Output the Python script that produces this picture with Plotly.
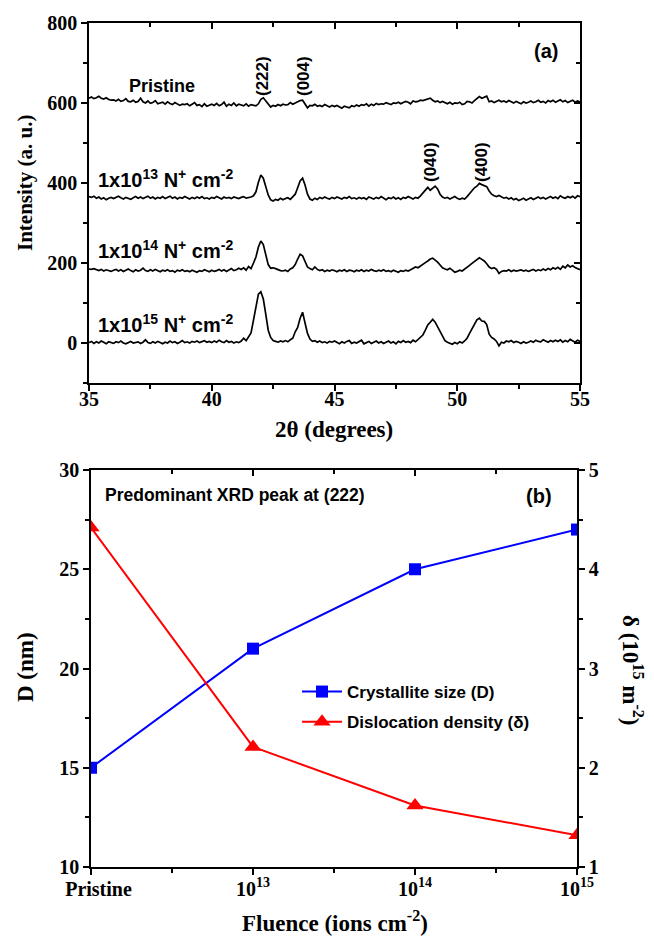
import numpy as np
import plotly.graph_objects as go

# ---------------- Panel (a): XRD patterns ----------------
two_theta = np.round(np.linspace(35, 55, 201), 1)

xrd_pristine = [
    612, 615, 611, 613, 617, 612, 610, 613, 609, 607,
    608, 605, 609, 604, 606, 611, 604, 603, 607, 602,
    604, 612, 603, 600, 605, 599, 601, 606, 598, 600,
    602, 597, 603, 599, 596, 601, 598, 594, 597, 596,
    598, 593, 597, 601, 594, 596, 591, 598, 592, 595,
    597, 594, 599, 593, 596, 602, 592, 597, 594, 600,
    593, 597, 595, 593, 598, 592, 596, 594, 593, 598,
    609, 613, 605, 595, 590, 594, 592, 596, 593, 597,
    595, 596, 601, 597, 600, 605, 606, 607, 598, 588,
    594, 593, 597, 592, 594, 591, 596, 593, 590, 594,
    591, 594, 590, 587, 592, 589, 588, 593, 591, 595,
    592, 596, 594, 598, 592, 597, 594, 599, 596, 598,
    597, 601, 598, 596, 600, 599, 602, 598, 601, 604,
    602, 598, 605, 603, 604, 607, 606, 608, 610, 612,
    607, 603, 605, 601, 604, 600, 598, 602, 597, 600,
    599, 602, 596, 598, 604, 603, 600, 606, 612, 616,
    612, 615, 617, 603, 605, 601, 604, 607, 603, 605,
    602, 606, 603, 600, 604, 601, 598, 603, 600, 602,
    605, 601, 603, 607, 602, 604, 600, 606, 603, 607,
    602, 605, 608, 603, 606, 601, 604, 607, 602, 605,
    603,
]

xrd_1e13 = [
    366, 364, 367, 362, 365, 360, 363, 358, 362, 364,
    361, 365, 367, 363, 360, 364, 362, 359, 363, 366,
    362, 365, 361, 364, 367, 362, 365, 360, 364, 362,
    366, 361, 364, 367, 362, 365, 360, 364, 362, 366,
    363, 360, 364, 361, 365, 362, 366, 361, 363, 360,
    364, 362, 366, 363, 360, 365, 362, 364, 361, 365,
    363, 361, 364, 366, 362, 363, 365, 368, 378, 402,
    420, 412, 390, 370, 358, 355, 359, 357, 362, 358,
    361, 363, 359, 366, 372, 388, 405, 412, 395, 372,
    360, 357, 362, 359, 364, 361, 365, 362, 360, 364,
    361, 365, 362, 360, 364, 362, 366, 361, 363, 360,
    364, 361, 363, 359, 365, 362, 360, 364, 361, 366,
    362, 358, 363, 361, 365, 360, 363, 359, 364, 362,
    366, 363, 360, 364, 362, 368, 376, 384, 389, 382,
    388, 392, 385, 372, 365, 362, 364, 360, 363, 366,
    362, 359, 362, 360, 366, 374, 382, 388, 392, 399,
    396, 393, 391, 380, 372, 368, 366, 369, 365, 362,
    364, 360, 363, 358, 361, 356, 359, 362, 357, 360,
    363, 359, 362, 365, 361, 364, 360, 363, 366, 362,
    365, 361, 368, 364, 362, 366, 363, 367, 362, 368,
    366,
]

xrd_1e14 = [
    185, 184, 186, 183, 181, 184, 180, 183, 181, 179,
    182, 184, 180, 183, 179, 182, 185, 181, 178, 183,
    180, 182, 187, 181, 179, 183, 180, 184, 181, 178,
    182, 180, 183, 179, 181, 177, 182, 180, 183, 179,
    181, 178, 182, 180, 177, 181, 179, 183, 180, 178,
    182, 179, 181, 184, 180, 183, 179, 182, 186, 181,
    183, 187, 184, 188, 182, 191, 186, 200, 215, 240,
    255, 246, 222, 196, 187, 188, 186, 183, 181, 180,
    182, 179, 185, 188, 196, 210, 222, 218, 203, 190,
    186, 183, 190, 184, 181, 183, 179, 182, 180, 183,
    181, 178, 182, 180, 183, 179, 182, 181, 178, 182,
    180, 183, 179, 182, 180, 184, 181, 179, 182, 180,
    183, 179, 181, 178, 182, 180, 177, 181, 179, 182,
    180, 183, 186, 190, 188, 193, 198, 201, 205, 210,
    212, 208, 202, 195, 188, 185, 183, 187, 181, 177,
    179, 182, 180, 184, 188, 194, 199, 204, 210, 213,
    209, 205, 198, 190, 186, 188, 184, 174, 179, 181,
    180, 183, 179, 182, 180, 181, 183, 180, 182, 179,
    182, 184, 180, 183, 181, 185, 182, 186, 183, 188,
    185, 189, 184, 192, 188, 195, 190, 193, 189, 186,
    183,
]

xrd_1e15 = [
    1, 4, -1, 3, 0, 5, 2, -2, 3, 0,
    -1, 3, 1, 5, 0, -2, 2, 4, 0, 1,
    3, -1, 2, 8, 1, -1, 3, 0, 4, 1,
    -2, 2, 0, 5, 1, 3, -1, 2, 6, 1,
    3, 0, 4, 2, 5, 1, 3, 6, 2, 4,
    1, 5, 2, 7, 3, 1, 6, 2, 4, 0,
    3, 1, 5, 12, 6, 14, 25, 57, 95, 122,
    128, 110, 72, 32, 14, 6, 4, 2, 5, 3,
    6, 3, 8, 12, 28, 39, 62, 77, 50, 24,
    10, 4, 6, 2, 5, 1, 3, 0, 4, 2,
    5, 1, -2, 3, 0, 4, 6, -1, 2, 0,
    3, 7, -2, 1, 4, -1, 2, 5, 0, 3,
    -1, 2, 5, 0, 3, -2, 4, 1, 6, 2,
    4, 1, 7, 3, 8, 14, 20, 32, 45, 52,
    59, 52, 40, 28, 15, 6, 2, 0, -3, 1,
    -2, 3, 0, 5, 12, 24, 36, 50, 58, 62,
    55, 54, 46, 22, 14, 10, 4, -7, 2, 0,
    5, 3, 6, 1, 4, 2, -1, 3, 0, 2,
    5, 2, 7, 4, 3, 8, 5, 2, 6, 3,
    7, 4, 8, 2, 6, 3, 9, 5, 2, 7,
    4,
]

# ---------------- Panel (b): D and dislocation density ----------------
fluence_pos = [12, 13, 14, 15]
fluence_labels = ["&nbsp;&nbsp;&nbsp;Pristine", "10<sup>13</sup>", "10<sup>14</sup>", "10<sup>15</sup>"]
crystallite_D = [15.0, 21.0, 25.0, 27.0]
dislocation_delta = [4.42, 2.21, 1.62, 1.32]

xrd_ticks = [35, 40, 45, 50, 55]
intensity_ticks = [0, 200, 400, 600, 800]
D_ticks = [10, 15, 20, 25, 30]
delta_ticks = [1, 2, 3, 4, 5]

W, H = 654, 936
def px(x):
    return x / W
def py(y):
    return 1 - y / H

SERIF = "Liberation Serif"
SANS = "Liberation Sans"
TICKF = dict(family=SERIF, size=20, color="black", weight="bold")

fig = go.Figure()
for ys in (xrd_pristine, xrd_1e13, xrd_1e14, xrd_1e15):
    fig.add_trace(go.Scatter(x=two_theta, y=ys, mode="lines", xaxis="x", yaxis="y",
                             line=dict(color="black", width=1.7), showlegend=False,
                             hoverinfo="skip"))

fig.add_trace(go.Scatter(x=fluence_pos, y=crystallite_D, mode="lines+markers",
                         xaxis="x2", yaxis="y2", name="Crystallite size (D)", legendgroup="D",
                         line=dict(color="#0000FF", width=2),
                         marker=dict(symbol="square", size=12, color="#0000FF")))
fig.add_trace(go.Scatter(x=fluence_pos, y=dislocation_delta, mode="lines+markers",
                         xaxis="x2", yaxis="y4", name="Dislocation density (δ)", legendgroup="delta",
                         line=dict(color="#FF0000", width=2),
                         marker=dict(symbol="triangle-up", size=15, color="#FF0000")))

# empty helper traces so the mirrored (inward-tick) axes exist
for xa, ya in (("x3", "y"), ("x", "y3"), ("x4", "y2")):
    fig.add_trace(go.Scatter(x=[None], y=[None], xaxis=xa, yaxis=ya, mode="lines",
                             showlegend=False, hoverinfo="skip"))

dom_xa = [px(89), px(580)]
dom_ya = [py(383), py(23)]
dom_xb = [px(91), px(577)]
dom_yb = [py(867), py(470)]

LW = 1.6
def minor(d, t0, side):
    return dict(dtick=d, tick0=t0, ticks=side, ticklen=4, tickcolor="black", tickwidth=LW)

common = dict(showgrid=False, zeroline=False, linecolor="black", linewidth=LW,
              tickcolor="black", tickwidth=LW, automargin=False)

fig.update_layout(
    width=W, height=H, margin=dict(l=0, r=0, t=0, b=0),
    paper_bgcolor="white", plot_bgcolor="white",
    xaxis=dict(domain=dom_xa, anchor="y", range=[35, 55], tickvals=xrd_ticks,
               ticks="outside", ticklen=6, tickfont=TICKF, showline=True, mirror=True,
               ticklabelstandoff=-9, minor=minor(2.5, 35, "outside"), **common),
    yaxis=dict(domain=dom_ya, anchor="x", range=[-100, 800], tickvals=intensity_ticks,
               ticks="outside", ticklen=6, tickfont=TICKF, showline=True, mirror=True,
               minor=minor(100, 0, "outside"), **common),
    xaxis3=dict(overlaying="x", anchor="y", side="top", range=[35, 55], tickvals=xrd_ticks,
                ticks="inside", ticklen=6, showticklabels=False, showline=False,
                minor=minor(2.5, 35, "inside"), **common),
    yaxis3=dict(overlaying="y", anchor="x", side="right", range=[-100, 800], tickvals=intensity_ticks,
                ticks="inside", ticklen=6, showticklabels=False, showline=False,
                minor=minor(100, 0, "inside"), **common),
    xaxis2=dict(domain=dom_xb, anchor="y2", range=[12, 15], tickvals=fluence_pos, ticktext=fluence_labels,
                ticks="outside", ticklen=6, tickfont=TICKF, showline=True, mirror=True,
                ticklabelstandoff=-3, minor=minor(0.5, 12, "outside"), **common),
    yaxis2=dict(domain=dom_yb, anchor="x2", range=[10, 30], tickvals=D_ticks,
                ticks="outside", ticklen=6, tickfont=TICKF, showline=True, mirror=True,
                minor=minor(2.5, 10, "outside"), **common),
    xaxis4=dict(overlaying="x2", anchor="y2", side="top", range=[12, 15], tickvals=fluence_pos,
                ticks="inside", ticklen=6, showticklabels=False, showline=False,
                minor=minor(0.5, 12, "inside"), **common),
    yaxis4=dict(overlaying="y2", anchor="x2", side="right", range=[1, 5], tickvals=delta_ticks,
                ticks="outside", ticklen=6, tickfont=TICKF, showline=True,
                minor=minor(0.5, 1, "outside"), **common),
    legend=dict(x=px(297), y=py(674), xanchor="left", yanchor="top", bgcolor="rgba(0,0,0,0)",
                font=dict(family=SANS, size=17, color="black", weight="bold"),
                itemwidth=40, tracegroupgap=5),
    showlegend=True,
)

def ann(text, x, y, size=17, family=SANS, angle=0, xanchor="center", bold=True):
    fig.add_annotation(text=text, x=px(x), y=py(y), xref="paper", yref="paper",
                       xanchor=xanchor, yanchor="middle", showarrow=False, textangle=angle,
                       font=dict(family=family, size=size, color="black",
                                 weight="bold" if bold else "normal"))

# panel (a) labels
ann("Pristine", 127, 86, size=18, xanchor="left")
ann("1x10<sup>13</sup> N<sup>+</sup> cm<sup>-2</sup>", 96, 178, size=20, xanchor="left")
ann("1x10<sup>14</sup> N<sup>+</sup> cm<sup>-2</sup>", 96, 250, size=20, xanchor="left")
ann("1x10<sup>15</sup> N<sup>+</sup> cm<sup>-2</sup>", 96, 323, size=20, xanchor="left")
ann("(222)", 262, 76, size=17, angle=-90)
ann("(004)", 303, 76, size=17, angle=-90)
ann("(040)", 430, 162, size=17, angle=-90)
ann("(400)", 481, 162, size=17, angle=-90)
ann("(a)", 546, 51, size=20)
ann("Intensity (a. u.)", 25, 183, size=21, family=SERIF, angle=-90)
ann("2θ (degrees)", 334, 430, size=23, family=SERIF)

# panel (b) labels
ann("Predominant XRD peak at (222)", 103, 495, size=17.5, xanchor="left")
ann("(b)", 539, 496, size=20)
ann("D (nm)", 25, 667, size=23, family=SERIF, angle=-90)
ann("δ (10<sup>15</sup> m<sup>-2</sup>)", 633, 670, size=23, family=SERIF, angle=90)
ann("Fluence (ions cm<sup>-2</sup>)", 335, 921, size=23, family=SERIF)

fig.write_html("out.html", config={"displayModeBar": False},
               post_script="document.body.style.margin='0px';document.body.style.overflow='hidden';")
